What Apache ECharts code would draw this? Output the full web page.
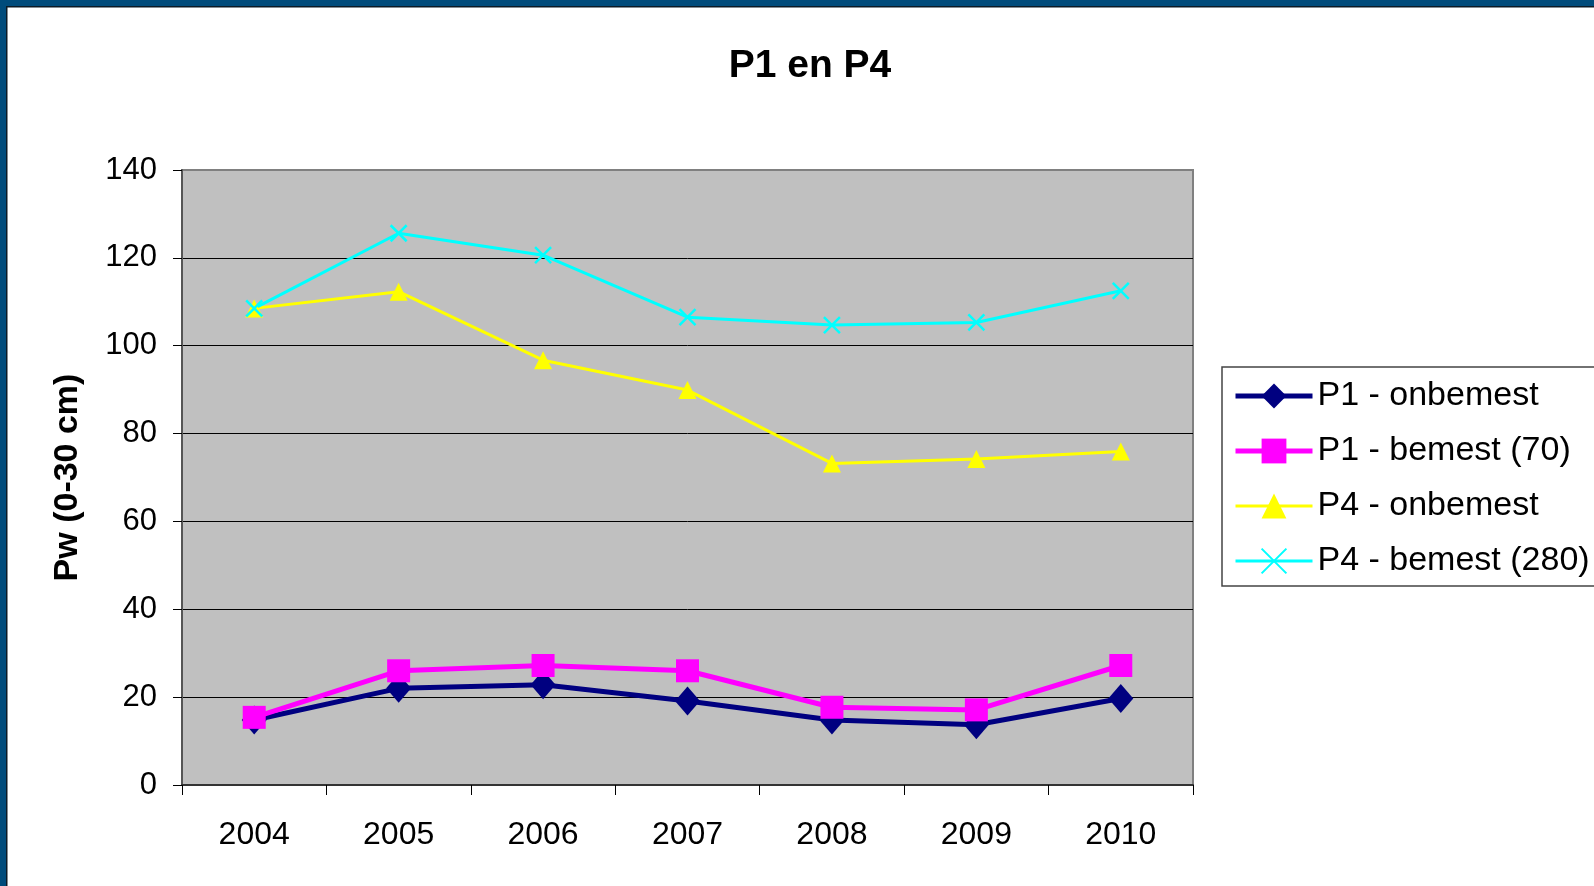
<!DOCTYPE html>
<html>
<head>
<meta charset="utf-8">
<script src="https://cdn.jsdelivr.net/npm/echarts@6/dist/echarts.min.js"></script>
<style>
html,body{margin:0;padding:0;background:#fff;}
#c{width:1594px;height:886px;}
</style>
</head>
<body>
<div id="c"></div>
<script>
const years = ['2004','2005','2006','2007','2008','2009','2010'];
const p1Onbemest = [14.8, 22.0, 22.8, 19.1, 14.8, 13.7, 19.7];
const p1Bemest = [15.4, 26.0, 27.2, 26.0, 17.7, 17.1, 27.2];
const p4Onbemest = [108.5, 112.3, 96.7, 89.9, 73.2, 74.2, 75.9];
const p4Bemest = [108.5, 125.6, 120.6, 106.5, 104.7, 105.3, 112.5];
const seriesNames = ['P1 - onbemest','P1 - bemest (70)','P4 - onbemest','P4 - bemest (280)'];

const FONT = "'Liberation Sans', Arial, sans-serif";
const chart = echarts.init(document.getElementById('c'), null, {renderer:'canvas'});
const crossPath = 'path://M0,0L10,10M10,0L0,10';
const legendWidths = [5, 5, 3, 3];

chart.setOption({
  animation:false,
  backgroundColor:'#ffffff',
  title:{
    text:'P1 en P4',
    left:805, top:42, textAlign:'center',
    textStyle:{fontFamily:FONT, fontSize:39, fontWeight:'bold', color:'#000'}
  },
  graphic:[
    {type:'rect', shape:{x:0,y:0,width:1594,height:7}, style:{fill:'#004B7B'}, z:100},
    {type:'rect', shape:{x:0,y:0,width:7,height:886}, style:{fill:'#004B7B'}, z:100},
    {type:'rect', shape:{x:7,y:6,width:1587,height:1.5}, style:{fill:'#0b1a26'}, z:100},
    {type:'rect', shape:{x:6,y:6,width:1.5,height:880}, style:{fill:'#0b1a26'}, z:100}
  ],
  legend:{
    orient:'vertical',
    left:1222, top:367,
    padding:[12, 40, 8, 11],
    itemWidth:77, itemHeight:31, itemGap:21,
    borderColor:'#444', borderWidth:1.5, backgroundColor:'#fff',
    textStyle:{fontFamily:FONT, fontSize:34, color:'#000', lineHeight:32},
    data:seriesNames.map((n,i)=>({name:n, lineStyle:{width:legendWidths[i]}}))
  },
  grid:{
    left:182, top:170, right:401, bottom:101,
    show:true, backgroundColor:'#C0C0C0', borderColor:'#808080', borderWidth:2
  },
  xAxis:{
    type:'category', data:years, boundaryGap:true,
    axisLine:{lineStyle:{color:'#333', width:2}},
    axisTick:{show:true, length:10, lineStyle:{color:'#000', width:1}},
    axisLabel:{fontFamily:FONT, fontSize:32, color:'#000', margin:34},
    splitLine:{show:false}
  },
  yAxis:{
    type:'value', min:0, max:140, interval:20,
    name:'Pw (0-30 cm)', nameLocation:'middle', nameGap:97, nameRotate:90,
    nameTextStyle:{fontFamily:FONT, fontSize:34, fontWeight:'bold', color:'#000'},
    axisLine:{show:true, lineStyle:{color:'#555', width:2}},
    axisTick:{show:true, length:9, lineStyle:{color:'#000', width:1}},
    axisLabel:{fontFamily:FONT, fontSize:31, color:'#000', margin:25},
    splitLine:{show:true, lineStyle:{color:['#333','#000','#000','#000','#000','#000','#000','#808080'], width:1}}
  },
  series:[
    {name:seriesNames[0], type:'line', data:p1Onbemest, symbol:'diamond', symbolSize:[25,29],
     lineStyle:{color:'#000080', width:5}, itemStyle:{color:'#000080'}},
    {name:seriesNames[1], type:'line', data:p1Bemest, symbol:'rect', symbolSize:23,
     lineStyle:{color:'#FF00FF', width:5}, itemStyle:{color:'#FF00FF'}},
    {name:seriesNames[2], type:'line', data:p4Onbemest, symbol:'triangle', symbolSize:18,
     lineStyle:{color:'#FFFF00', width:3}, itemStyle:{color:'#FFFF00'}},
    {name:seriesNames[3], type:'line', data:p4Bemest, symbol:crossPath, symbolSize:16,
     lineStyle:{color:'#00FFFF', width:3}, itemStyle:{color:'#00FFFF', borderColor:'#00FFFF', borderWidth:2.5}}
  ]
});
</script>
</body>
</html>
